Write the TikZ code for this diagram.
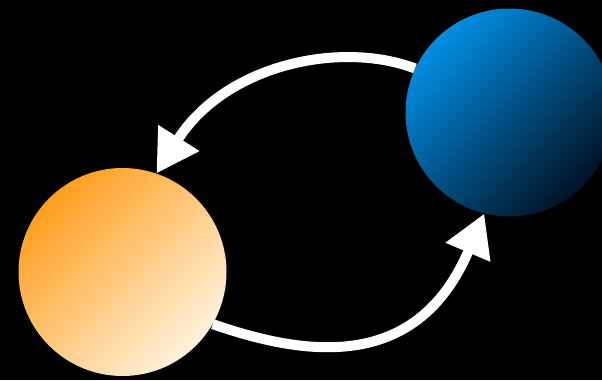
\documentclass[tikz,border=0pt]{standalone}
\usetikzlibrary{arrows.meta}
\definecolor{orangeA}{RGB}{255,158,30}
\definecolor{orangeB}{RGB}{255,242,222}
\definecolor{blueA}{RGB}{0,142,228}
\definecolor{blueB}{RGB}{0,18,36}
\tikzset{
  ball/.style={circle, inner sep=0pt, minimum size=208pt},
  flow/.style={draw=white, line width=10pt, -{Triangle[length=42pt,width=46pt]}}
}
\begin{document}
\begin{tikzpicture}[x=1pt,y=1pt]
\fill[black] (0,0) rectangle (602,380);
\useasboundingbox (0,0) rectangle (602,380);
\path (122.5,108) node[ball] (orange) {};
\path (509.5,267.5) node[ball] (blue) {};
\draw[flow] (blue.155) .. controls (340,340) and (225,315) .. (orange.71);
\draw[flow] (orange.-30) .. controls (310,22) and (418,10) .. (blue.-104);
\path[top color=orangeA, bottom color=orangeB, shading angle=45] (orange.center) circle[radius=104pt];
\path[top color=blueA, bottom color=blueB, shading angle=45] (blue.center) circle[radius=104pt];
\end{tikzpicture}
\end{document}
